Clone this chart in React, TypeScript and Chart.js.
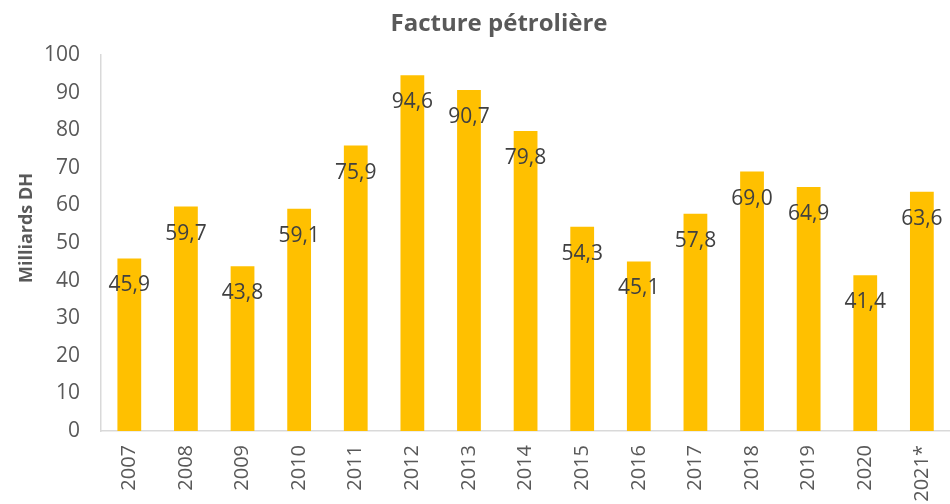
import React, { useEffect, useRef } from "react";
import { Chart, registerables } from "chart.js";

Chart.register(...registerables);

const categories = ["2007", "2008", "2009", "2010", "2011", "2012", "2013", "2014", "2015", "2016", "2017", "2018", "2019", "2020", "2021*"];
const values = [45.9, 59.7, 43.8, 59.1, 75.9, 94.6, 90.7, 79.8, 54.3, 45.1, 57.8, 69.0, 64.9, 41.4, 63.6];
const chartTitle = "Facture pétrolière";
const yAxisTitle = "Milliards DH";

const FONT = "'Open Sans', 'DejaVu Sans', sans-serif";

const labelsPlugin = {
  id: "customText",
  afterDatasetsDraw(chart: any) {
    const ctx = chart.ctx;
    ctx.save();
    const meta = chart.getDatasetMeta(0);
    ctx.font = `21px ${FONT}`;
    ctx.fillStyle = "#404040";
    ctx.textAlign = "center";
    ctx.textBaseline = "middle";
    meta.data.forEach((el: any, i: number) => {
      const txt = values[i].toFixed(1).replace(".", ",");
      ctx.fillText(txt, el.x, el.y + 27);
    });
    // title
    ctx.font = `bold 24px ${FONT}`;
    ctx.fillStyle = "#595959";
    ctx.fillText(chartTitle, 499, 24);
    // y-axis title
    ctx.translate(27, 228);
    ctx.rotate(-Math.PI / 2);
    ctx.font = `bold 18px ${FONT}`;
    ctx.fillText(yAxisTitle, 0, 0);
    ctx.restore();
  },
};

export default function App() {
  const ref = useRef<HTMLCanvasElement>(null);
  useEffect(() => {
    document.body.style.overflow = "hidden";
    const chart = new Chart(ref.current!, {
      type: "bar",
      data: {
        labels: categories,
        datasets: [
          {
            data: values,
            backgroundColor: "#FFC000",
            borderWidth: 0,
            categoryPercentage: 1,
            barPercentage: 0.42,
          },
        ],
      },
      options: {
        animation: false,
        responsive: false,
        devicePixelRatio: 1,
        layout: { padding: { top: 55, right: 4, left: 0, bottom: 0 } },
        plugins: { legend: { display: false }, title: { display: false }, tooltip: { enabled: false } },
        scales: {
          x: {
            grid: { display: false, drawTicks: false },
            border: { display: true, color: "#D9D9D9", width: 1.5 },
            ticks: {
              minRotation: 90,
              maxRotation: 90,
              padding: 14,
              color: "#595959",
              font: { family: FONT, size: 20 },
              autoSkip: false,
            },
            afterFit: (s: any) => {
              s.height = 73;
            },
          },
          y: {
            min: 0,
            max: 100,
            grid: { display: false, drawTicks: false },
            border: { display: true, color: "#D9D9D9", width: 1.5 },
            ticks: {
              stepSize: 10,
              padding: 21,
              color: "#595959",
              font: { family: FONT, size: 21 },
            },
            afterFit: (s: any) => {
              s.width = 101;
            },
          },
        },
      },
      plugins: [labelsPlugin],
    });
    return () => chart.destroy();
  }, []);
  return (
    <div style={{ position: "fixed", left: 0, top: 0, width: 960, height: 504, background: "#fff" }}>
      <canvas ref={ref} width={960} height={504} style={{ display: "block" }} />
    </div>
  );
}
